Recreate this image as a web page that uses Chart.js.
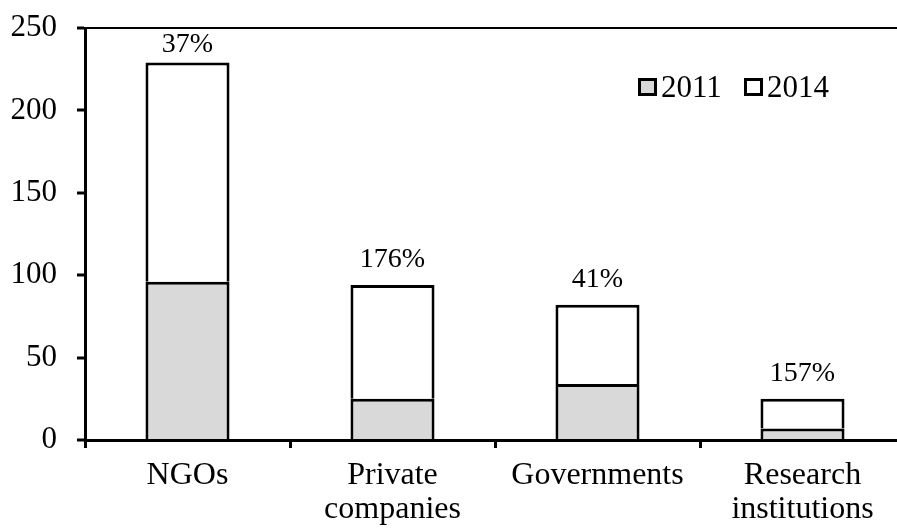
<!DOCTYPE html>
<html>
<head>
<meta charset="utf-8">
<script src="https://cdn.jsdelivr.net/npm/chart.js@4.4.1/dist/chart.umd.min.js"></script>
<style>
  html, body { margin: 0; padding: 0; background: #fff; overflow: hidden; }
  #wrap { width: 897px; height: 528px; overflow: hidden; }
</style>
</head>
<body>
<div id="wrap"><canvas id="partnerChart" width="905" height="528"></canvas></div>
<script>
// values
const categories = [['NGOs'], ['Private', 'companies'], ['Governments'], ['Research', 'institutions']];
const values2011 = [96, 25, 34, 7];
const values2014 = [133, 69, 48, 18];   // stacked on top of 2011
const growthLabels = ['37%', '176%', '41%', '157%'];
const yTicks = [0, 50, 100, 150, 200, 250];

const serif = '"Liberation Serif", "Times New Roman", serif';

// % labels above each stack
const growthPlugin = {
    id: 'growth',
    afterDatasetsDraw(chart) {
        const ctx = chart.ctx;
        const meta = chart.getDatasetMeta(1);
        ctx.save();
        ctx.font = '28px ' + serif;
        ctx.fillStyle = '#000';
        ctx.textAlign = 'center';
        ctx.textBaseline = 'alphabetic';
        meta.data.forEach((bar, i) => {
            let y = Math.max(bar.y - 18, chart.chartArea.top + 24);
            ctx.fillText(growthLabels[i], bar.x, y);
        });
        ctx.restore();
    }
};

// legend in the top right corner
const legendPlugin = {
    id: 'boxLegend',
    afterDraw(chart) {
        const ctx = chart.ctx;
        const items = [
            { text: chart.data.datasets[0].label, fill: chart.data.datasets[0].backgroundColor, x: 638 },
            { text: chart.data.datasets[1].label, fill: chart.data.datasets[1].backgroundColor, x: 744 }
        ];
        ctx.save();
        ctx.font = '31px ' + serif;
        ctx.textBaseline = 'alphabetic';
        items.forEach(it => {
            ctx.fillStyle = it.fill;
            ctx.strokeStyle = '#000';
            ctx.lineWidth = 3;
            ctx.beginPath();
            ctx.rect(it.x + 1.5, 79.5, 16, 15);
            ctx.fill();
            ctx.stroke();
            ctx.fillStyle = '#000';
            ctx.fillText(it.text, it.x + 23, 97);
        });
        ctx.restore();
    }
};

new Chart(document.getElementById('partnerChart').getContext('2d'), {
    type: 'bar',
    data: {
        labels: categories,
        datasets: [{
            label: '2011',
            data: values2011,
            backgroundColor: '#d9d9d9',
            borderColor: '#000',
            borderWidth: 3,
            borderSkipped: 'bottom'
        }, {
            label: '2014',
            data: values2014,
            backgroundColor: '#ffffff',
            borderColor: '#000',
            borderWidth: 3,
            borderSkipped: 'bottom'
        }]
    },
    options: {
        responsive: false,
        animation: false,
        devicePixelRatio: 1,
        barPercentage: 0.41,
        categoryPercentage: 1,
        layout: { padding: { top: 28, right: 0, left: 0, bottom: 0 } },
        plugins: {
            legend: { display: false },
            tooltip: { enabled: false }
        },
        scales: {
            x: {
                stacked: true,
                afterFit(scale) { scale.height = 88; scale.paddingLeft = 0; scale.paddingRight = 0; },
                border: { display: true, color: '#000', width: 3 },
                grid: {
                    offset: true,
                    drawOnChartArea: false,
                    tickLength: 8,
                    tickColor: '#000',
                    tickWidth: 3
                },
                ticks: {
                    color: '#000',
                    padding: 11,
                    maxRotation: 0,
                    font: { family: serif, size: 32, lineHeight: 1.05 }
                }
            },
            y: {
                stacked: true,
                min: 0,
                max: 250,
                afterFit(scale) { scale.width = 85; scale.paddingTop = 0; scale.paddingBottom = 0; },
                afterBuildTicks(scale) { scale.ticks = yTicks.map(v => ({ value: v })); },
                border: { display: true, color: '#000', width: 3 },
                grid: {
                    drawOnChartArea: true,
                    color: c => (c.tick && c.tick.value === 250) ? '#000' : 'rgba(0,0,0,0)',
                    lineWidth: 2,
                    tickLength: 8,
                    tickColor: '#000',
                    tickWidth: 3
                },
                ticks: {
                    color: '#000',
                    padding: 20,
                    font: { family: serif, size: 31 }
                }
            }
        }
    },
    plugins: [growthPlugin, legendPlugin]
});
</script>
</body>
</html>
